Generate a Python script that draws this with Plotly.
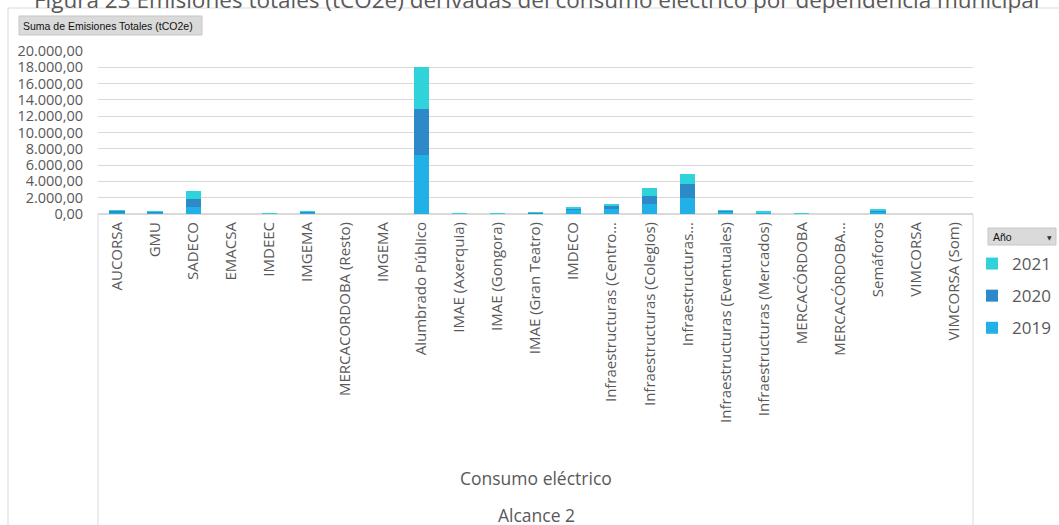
import plotly.graph_objects as go

categories = ["AUCORSA", "GMU", "SADECO", "EMACSA", "IMDEEC", "IMGEMA",
              "MERCACORDOBA (Resto)", "IMGEMA", "Alumbrado Público",
              "IMAE (Axerquia)", "IMAE (Gongora)", "IMAE (Gran Teatro)", "IMDECO",
              "Infraestructuras (Centro…", "Infraestructuras (Colegios)",
              "Infraestructuras…", "Infraestructuras (Eventuales)",
              "Infraestructuras (Mercados)", "MERCACÓRDOBA", "MERCACÓRDOBA…",
              "Semáforos", "VIMCORSA", "VIMCORSA (Som)"]

em_2019 = [230, 180, 900, 0, 30, 200, 0, 0, 7240, 20, 20, 100, 560, 580, 1230, 1960, 300, 130, 20, 0, 270, 0, 0]
em_2020 = [170, 80, 1000, 0, 20, 70, 0, 0, 5610, 20, 20, 60, 130, 400, 940, 1720, 110, 60, 20, 0, 150, 0, 0]
em_2021 = [80, 30, 950, 0, 50, 60, 0, 0, 5200, 30, 30, 50, 130, 290, 1020, 1190, 40, 60, 30, 0, 110, 0, 0]

series_names = ["2019", "2020", "2021"]
series_values = [em_2019, em_2020, em_2021]
series_colors = ["#21B1E6", "#2E89C9", "#31D3DA"]
legend_ranks = [3, 2, 1]

y_ticks = list(range(0, 20001, 2000))

title_text = "Figura 23 Emisiones totales (tCO2e) derivadas del consumo eléctrico por dependencia municipal"
field_button = "Suma de Emisiones Totales (tCO2e)"
legend_button = "Año"
level2_label = "Consumo eléctrico"
level3_label = "Alcance 2"

W, H = 1059, 525
PL, PR, PT, PB = 98, 973, 51, 214


def px(x):
    return (x - PL) / (PR - PL)


def py(y):
    return (PB - y) / (PB - PT)


FONT = "Open Sans"
GREY = "#595959"
LINE = "#d9d9d9"

x_pos = list(range(len(categories)))

fig = go.Figure()
for name, vals, col, rk in zip(series_names, series_values, series_colors, legend_ranks):
    fig.add_trace(go.Bar(x=x_pos, y=vals, name=name, marker=dict(color=col, line=dict(width=0)),
                         width=0.4, legendgroup=name, legendrank=rk))

shapes = [
    # outer chart border (left / top)
    dict(type="line", xref="paper", yref="paper", x0=px(8), x1=px(8), y0=py(8), y1=py(540),
         line=dict(color=LINE, width=1)),
    dict(type="line", xref="paper", yref="paper", x0=px(8), x1=px(1070), y0=py(8), y1=py(8),
         line=dict(color=LINE, width=1)),
    # category area verticals
    dict(type="line", xref="paper", yref="paper", x0=0, x1=0, y0=0, y1=py(540),
         line=dict(color=LINE, width=1)),
    dict(type="line", xref="paper", yref="paper", x0=1, x1=1, y0=0, y1=py(540),
         line=dict(color=LINE, width=1)),
    # field buttons
    dict(type="rect", xref="paper", yref="paper", x0=px(19), x1=px(202), y0=py(35), y1=py(16),
         fillcolor="#dadada", line=dict(color="#c6c6c6", width=1), layer="above"),
    dict(type="rect", xref="paper", yref="paper", x0=px(988), x1=px(1056), y0=py(245), y1=py(228),
         fillcolor="#dadada", line=dict(color="#c6c6c6", width=1), layer="above"),
]

annotations = [
    dict(text=title_text, xref="paper", yref="paper", x=px(537), y=py(17), xanchor="center",
         yanchor="bottom", showarrow=False, font=dict(family=FONT, size=22.5, color=GREY)),
    dict(text=field_button, xref="paper", yref="paper", x=px(21), y=py(25.5), xanchor="left",
         yanchor="middle", showarrow=False, font=dict(family="Liberation Sans", size=10.5, color="#111111")),
    dict(text=legend_button, xref="paper", yref="paper", x=px(991), y=py(236.5), xanchor="left",
         yanchor="middle", showarrow=False, font=dict(family="Liberation Sans", size=10.5, color="#111111")),
    dict(text="▼", xref="paper", yref="paper", x=px(1049), y=py(237), xanchor="center",
         yanchor="middle", showarrow=False, font=dict(family="DejaVu Sans", size=6, color="#333333")),
    dict(text=level2_label, xref="paper", yref="paper", x=px(536), y=py(478), xanchor="center",
         yanchor="middle", showarrow=False, font=dict(family=FONT, size=17.5, color=GREY)),
    dict(text=level3_label, xref="paper", yref="paper", x=px(536), y=py(515), xanchor="center",
         yanchor="middle", showarrow=False, font=dict(family=FONT, size=17.5, color=GREY)),
]

fig.update_layout(
    width=W, height=H,
    margin=dict(l=PL, r=W - PR, t=PT, b=H - PB, pad=0, autoexpand=False),
    paper_bgcolor="white", plot_bgcolor="white",
    barmode="stack",
    separators=",.",
    font=dict(family=FONT, color=GREY),
    showlegend=True,
    legend=dict(x=px(972), y=py(246), xanchor="left", yanchor="top",
                traceorder="grouped", tracegroupgap=7,
                font=dict(family=FONT, size=17, color=GREY), bgcolor="rgba(0,0,0,0)"),
    shapes=shapes,
    annotations=annotations,
    xaxis=dict(tickmode="array", tickvals=x_pos, ticktext=categories, tickangle=-90,
               range=[-0.5, len(categories) - 0.5], showgrid=False, showline=True,
               linecolor=LINE, linewidth=1, ticks="", ticklabelstandoff=1, automargin=False,
               tickfont=dict(family=FONT, size=15, color=GREY), fixedrange=True),
    yaxis=dict(range=[0, 20000], tickmode="array", tickvals=y_ticks, tickformat=",.2f",
               showgrid=True, gridcolor=LINE, gridwidth=1, zeroline=True, zerolinecolor=LINE,
               showline=False, ticks="", ticklabelstandoff=14, automargin=False,
               tickfont=dict(family=FONT, size=14.5, color=GREY), fixedrange=True),
)

fig.write_html("out.html", config={"displayModeBar": False},
               post_script="document.body.style.margin='0';document.body.style.overflow='hidden';")
